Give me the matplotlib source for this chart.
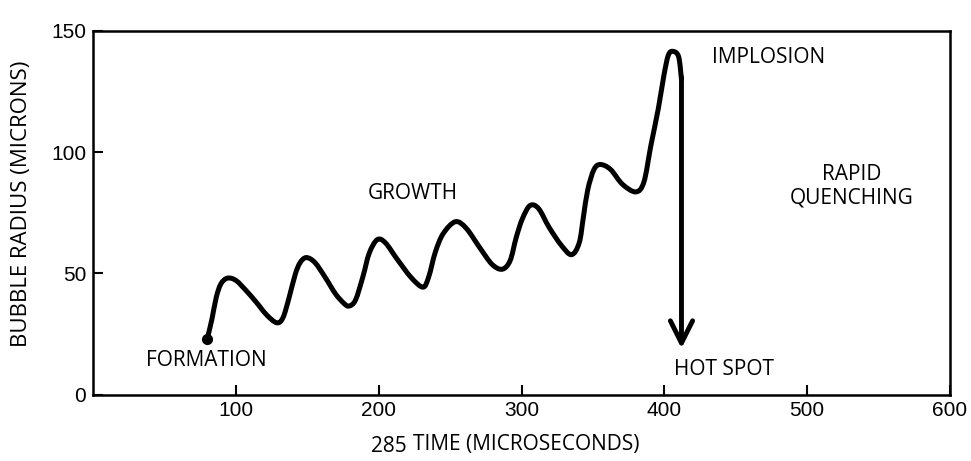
import matplotlib
matplotlib.use("Agg")
import matplotlib.pyplot as plt
from matplotlib.path import Path
from matplotlib.patches import PathPatch

# ---- data ----
time_us = [80, 83.3, 86.3, 89.5, 94, 100, 107, 114, 121.5, 128.6, 133, 137.3, 141.6,
           145, 149.3, 155.3, 162.5, 169.7, 175.7, 179.3, 183.8, 189, 193.4, 199,
           204.7, 213, 222.7, 231, 235, 239.7, 245.2, 253.7, 261.3, 271, 279.4,
           286.5, 292, 296.3, 300.6, 306, 312, 319.2, 327.7, 335, 340.4, 343.4,
           346.4, 350.7, 355.2, 362.3, 370.6, 380, 385.7, 390.6, 395.8, 399.7,
           402.8, 406, 410, 412]
radius_um = [23, 31.2, 40.1, 45.6, 48, 47.1, 43, 38.3, 32.9, 29.6, 31.7, 40, 49.6,
             54.4, 56.5, 54.5, 48.4, 41.6, 37.6, 36.5, 39, 48.7, 58.3, 63.9,
             62.6, 55.8, 48.3, 44.3, 48.5, 58.8, 66.4, 71.3, 68.6, 60.4, 53.7,
             51.7, 55.2, 64.8, 72.5, 78, 76.7, 69.1, 61.7, 57.7, 62.6, 73.5,
             84.5, 92.8, 94.9, 92.9, 86.8, 83.6, 87.7, 102.8, 118, 131.7,
             140, 141.6, 139.4, 130]
hot_spot_time = 412
hot_spot_radius = 19
formation_time = 80
formation_radius = 23

x_ticks = [100, 200, 300, 400, 500, 600]
y_ticks = [0, 50, 100, 150]

TXT = ['Open Sans', 'DejaVu Sans']
NUM = ['Liberation Sans Narrow', 'Liberation Sans', 'DejaVu Sans']


def smooth_path(xs, ys):
    """Catmull-Rom curve through the read points, as cubic Bezier segments."""
    pts = list(zip(xs, ys))
    n = len(pts)
    verts = [pts[0]]
    codes = [Path.MOVETO]
    for i in range(n - 1):
        p0 = pts[max(i - 1, 0)]
        p1 = pts[i]
        p2 = pts[i + 1]
        p3 = pts[min(i + 2, n - 1)]
        c1 = (p1[0] + (p2[0] - p0[0]) / 6, p1[1] + (p2[1] - p0[1]) / 6)
        c2 = (p2[0] - (p3[0] - p1[0]) / 6, p2[1] - (p3[1] - p1[1]) / 6)
        verts += [c1, c2, p2]
        codes += [Path.CURVE4] * 3
    return Path(verts, codes)


fig = plt.figure(figsize=(9.71, 4.61), dpi=100)
ax = fig.add_axes([93 / 971, 1 - 394.5 / 461, 857 / 971, 363.5 / 461])

ax.add_patch(PathPatch(smooth_path(time_us, radius_um), facecolor='none',
                       edgecolor='black', lw=3.6, joinstyle='round',
                       capstyle='round'))
ax.plot([formation_time], [formation_radius], 'o', color='black', ms=7)

ax.annotate('', xy=(hot_spot_time, hot_spot_radius),
            xytext=(time_us[-1], radius_um[-1] + 1),
            arrowprops=dict(arrowstyle='->,head_length=0.8,head_width=0.4',
                            lw=3.5, color='black', shrinkA=0, shrinkB=0,
                            mutation_scale=20))

ax.set_xlim(0, 600)
ax.set_ylim(0, 150)
ax.set_xticks(x_ticks)
ax.set_yticks(y_ticks)
ax.tick_params(direction='in', length=7, width=1.5, pad=5, labelsize=15)
for lab in ax.get_xticklabels() + ax.get_yticklabels():
    lab.set_family(NUM)
for s in ax.spines.values():
    s.set_linewidth(1.8)

kw = dict(family=TXT, fontsize=15, fontweight='medium', ha='center', va='center',
          color='black')
ax.text(79, 14, 'FORMATION', **kw)
ax.text(224, 83, 'GROWTH', **kw)
ax.text(473, 139, 'IMPLOSION', **kw)
ax.text(531, 86, 'RAPID\nQUENCHING', linespacing=1.15, multialignment='center', **kw)
ax.text(442, 10.5, 'HOT SPOT', **kw)

fig.text(526 / 971, 1 - 444 / 461, 'TIME (MICROSECONDS)', family=TXT, fontsize=15,
         fontweight='medium', ha='center', va='center')
fig.text(389 / 971, 1 - 446 / 461, '285', family=TXT, fontsize=15,
         ha='center', va='center')
fig.text(22 / 971, 1 - 204 / 461, 'BUBBLE RADIUS (MICRONS)', family=TXT, fontsize=16,
         fontweight='medium', rotation=90, ha='center', va='center')

fig.savefig('out.png', dpi=100)
